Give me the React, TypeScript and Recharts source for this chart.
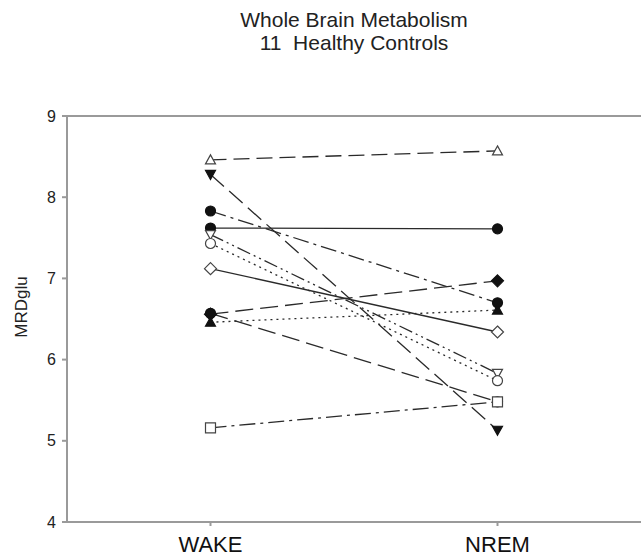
import React from "react";
import {
  LineChart,
  Line,
  XAxis,
  YAxis,
  ReferenceLine
} from "recharts";

// two conditions, 11 subjects
const phases = ["WAKE", "NREM"];
const wakeValues = [8.46, 8.28, 7.83, 7.62, 7.54, 7.43, 7.12, 6.56, 6.46, 6.57, 5.16];
const nremValues = [8.57, 5.13, 6.70, 7.61, 5.83, 5.74, 6.34, 6.97, 6.61, 5.48, 5.48];
const yTicks = [4, 5, 6, 7, 8, 9];

// marker shape, filled or not, dash pattern for each subject
const markerShapes = ["up", "down", "circle", "circle", "down", "circle", "diamond", "diamond", "up", "circle", "square"];
const markerFilled = [false, true, true, true, false, false, false, true, true, true, false];
const dashes = ["16 7", "18 7", "16 5 3 5", "", "14 4 2 4 2 4", "2 4", "", "18 7", "2 4", "18 7", "16 5 3 5"];

const data = phases.map((p, i) => {
  const row: Record<string, number> = { x: i };
  wakeValues.forEach((_, s) => {
    row["s" + s] = i === 0 ? wakeValues[s] : nremValues[s];
  });
  return row;
});

const font = "'Liberation Sans', Arial, sans-serif";
const axisColor = "#9a9a9a";
const lineColor = "#2a2a2a";

function Marker({ cx, cy, shape, filled }: any) {
  if (cx == null || cy == null) return null;
  const fill = filled ? "#111" : "#fff";
  const stroke = filled ? "#111" : "#444";
  const r = 5;
  if (shape === "circle") {
    return <circle cx={cx} cy={cy} r={r} fill={fill} stroke={stroke} strokeWidth={1.2} />;
  }
  let pts = "";
  if (shape === "up") pts = `${cx},${cy - r} ${cx + r},${cy + r * 0.8} ${cx - r},${cy + r * 0.8}`;
  if (shape === "down") pts = `${cx},${cy + r} ${cx + r},${cy - r * 0.8} ${cx - r},${cy - r * 0.8}`;
  if (shape === "diamond") pts = `${cx},${cy - r - 1} ${cx + r + 1},${cy} ${cx},${cy + r + 1} ${cx - r - 1},${cy}`;
  if (shape === "square") pts = `${cx - r},${cy - r} ${cx + r},${cy - r} ${cx + r},${cy + r} ${cx - r},${cy + r}`;
  return <polygon points={pts} fill={fill} stroke={stroke} strokeWidth={1.2} />;
}

const YLabel = () => (
  <text
    x={23}
    y={307}
    transform="rotate(-90 23 307)"
    textAnchor="middle"
    dominantBaseline="middle"
    fontSize={17}
    fontFamily={font}
    fill="#222"
  >
    MRDglu
  </text>
);

export default function App() {
  return (
    <div style={{ position: "absolute", left: 0, top: 0, width: 641, height: 559, background: "#fff" }}>
      <div
        style={{
          position: "absolute",
          left: 67,
          width: 574,
          top: 8,
          textAlign: "center",
          fontFamily: font,
          fontSize: 21,
          lineHeight: "23px",
          color: "#222"
        }}
      >
        Whole Brain Metabolism
        <br />
        11&nbsp; Healthy Controls
      </div>
      <LineChart width={641} height={559} data={data} margin={{ top: 116, right: 0, bottom: 0, left: 0 }}>
        <XAxis
          dataKey="x"
          type="number"
          domain={[-0.5, 1.5]}
          ticks={[0, 1]}
          tickFormatter={(v: number) => phases[v]}
          height={37}
          stroke={axisColor}
          strokeWidth={2}
          tickSize={4}
          tick={{ fontSize: 22, fontFamily: font, fill: "#111", dy: 8 }}
        />
        <YAxis
          type="number"
          domain={[4, 9]}
          ticks={yTicks}
          width={67}
          stroke={axisColor}
          strokeWidth={2}
          tickSize={5}
          tick={{ fontSize: 16, fontFamily: font, fill: "#222", dx: -4 }}
          label={<YLabel />}
        />
        <ReferenceLine y={9} stroke={axisColor} strokeWidth={2} />
        {wakeValues.map((_, s) => (
          <Line
            key={s}
            dataKey={"s" + s}
            type="linear"
            stroke={lineColor}
            strokeWidth={1.3}
            strokeDasharray={dashes[s] || undefined}
            isAnimationActive={false}
            dot={(p: any) => (
              <Marker key={"m" + s + "-" + p.index} cx={p.cx} cy={p.cy} shape={markerShapes[s]} filled={markerFilled[s]} />
            )}
            activeDot={false}
          />
        ))}
      </LineChart>
    </div>
  );
}
